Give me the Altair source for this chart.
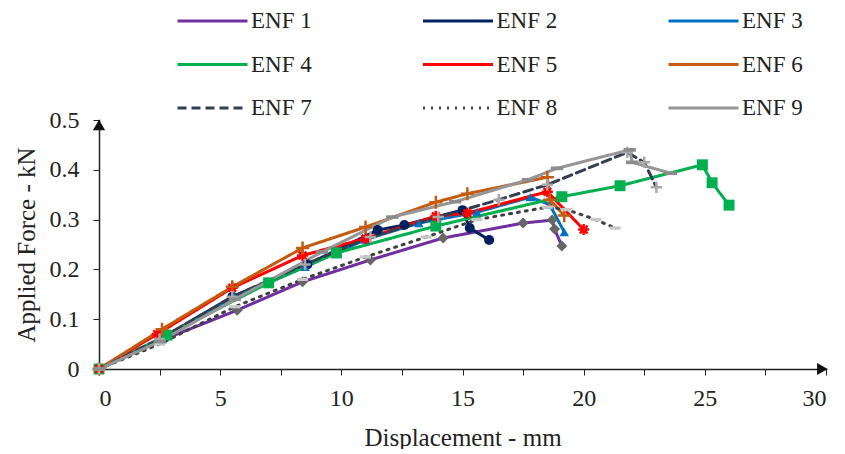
import altair as alt
import pandas as pd

series = ["ENF 1", "ENF 2", "ENF 3", "ENF 4", "ENF 5", "ENF 6", "ENF 7", "ENF 8", "ENF 9"]

x_enf1 = [0, 2.6, 5.7, 8.4, 11.2, 14.2, 17.5, 18.7, 18.8, 19.1]
y_enf1 = [0, 0.058, 0.118, 0.175, 0.219, 0.263, 0.293, 0.299, 0.281, 0.247]
x_enf2 = [0, 2.7, 5.5, 8.6, 11.5, 12.6, 15.0, 15.3, 16.1]
y_enf2 = [0, 0.065, 0.145, 0.21, 0.279, 0.289, 0.319, 0.283, 0.259]
x_enf3 = [0, 2.6, 5.6, 8.5, 11.0, 13.2, 15.6, 17.8, 18.6, 19.2]
y_enf3 = [0, 0.06, 0.145, 0.205, 0.26, 0.293, 0.315, 0.345, 0.33, 0.275]
x_enf4 = [0, 2.8, 7.0, 9.8, 13.9, 19.1, 21.5, 24.9, 25.3, 26.0]
y_enf4 = [0, 0.068, 0.173, 0.233, 0.287, 0.346, 0.368, 0.41, 0.374, 0.329]
x_enf5 = [0, 2.4, 5.5, 8.4, 11.0, 13.9, 15.2, 18.5, 20.0]
y_enf5 = [0, 0.07, 0.163, 0.228, 0.262, 0.307, 0.313, 0.356, 0.28]
x_enf6 = [0, 2.6, 5.5, 8.4, 11.0, 13.9, 15.2, 18.5, 18.6, 19.2]
y_enf6 = [0, 0.08, 0.165, 0.243, 0.285, 0.335, 0.352, 0.385, 0.34, 0.308]
x_enf7 = [0, 2.5, 5.5, 8.5, 11.2, 14.0, 16.5, 18.5, 21.8, 22.5, 23.0]
y_enf7 = [0, 0.06, 0.145, 0.21, 0.265, 0.305, 0.34, 0.37, 0.435, 0.415, 0.365]
x_enf8 = [0, 2.5, 5.6, 8.4, 11.0, 13.5, 15.6, 18.5, 19.3, 20.5, 21.3]
y_enf8 = [0, 0.05, 0.125, 0.18, 0.225, 0.265, 0.3, 0.325, 0.32, 0.3, 0.283]
x_enf9 = [0, 2.5, 5.6, 9.2, 12.1, 14.7, 17.7, 18.9, 21.9, 22.0, 23.6]
y_enf9 = [0, 0.055, 0.14, 0.235, 0.305, 0.336, 0.38, 0.403, 0.44, 0.415, 0.393]

xs_all = [x_enf1, x_enf2, x_enf3, x_enf4, x_enf5, x_enf6, x_enf7, x_enf8, x_enf9]
ys_all = [y_enf1, y_enf2, y_enf3, y_enf4, y_enf5, y_enf6, y_enf7, y_enf8, y_enf9]

x_ticks = [0, 2.5, 5, 7.5, 10, 12.5, 15, 17.5, 20, 22.5, 25, 27.5, 30]
y_ticks = [0, 0.05, 0.1, 0.15, 0.2, 0.25, 0.3, 0.35, 0.4, 0.45, 0.5]

rows = []
for name, xs, ys in zip(series, xs_all, ys_all):
    for i, (a, b) in enumerate(zip(xs, ys)):
        rows.append({"series": name, "order": i, "disp": a, "force": b})
df = pd.DataFrame(rows)

line_colors = ["#7030A0", "#002060", "#0070C0", "#00B050", "#FF0000",
               "#C55A11", "#333F50", "#404040", "#969696"]
dashes = [[1, 0], [1, 0], [1, 0], [1, 0], [1, 0], [1, 0], [9, 5], [2, 6], [1, 0]]
widths = [3, 3, 3, 3, 3, 3, 3, 4.5, 3]

FONT = "'Liberation Serif', Tinos, 'Nimbus Roman', 'Times New Roman', 'DejaVu Serif', serif"

xscale = alt.Scale(domain=[0, 30], nice=False)
yscale = alt.Scale(domain=[0, 0.5], nice=False)

xaxis = alt.Axis(values=x_ticks, title="Displacement - mm", grid=False,
                 labelExpr="datum.value % 5 == 0 ? datum.label : ''",
                 labelFont=FONT, labelFontSize=24, labelColor="#222",
                 titleFont=FONT, titleFontSize=25, titleFontWeight="normal", titleColor="#222",
                 tickSize=6, tickColor="#222", domainColor="#222", domainWidth=1.5,
                 labelPadding=11, titlePadding=15)
yaxis = alt.Axis(values=y_ticks, title="Applied Force - kN", grid=False,
                 labelExpr="round(datum.value*100) % 10 == 0 ? (datum.value == 0 ? '0' : format(datum.value, '.1f')) : ''",
                 labelFont=FONT, labelFontSize=24, labelColor="#222",
                 titleFont=FONT, titleFontSize=25, titleFontWeight="normal", titleColor="#222",
                 tickSize=6, tickColor="#222", domainColor="#222", domainWidth=1.5,
                 labelPadding=14, titlePadding=10)

base = alt.Chart(df)

lines = base.mark_line(strokeCap="round").encode(
    x=alt.X("disp:Q", scale=xscale, axis=xaxis),
    y=alt.Y("force:Q", scale=yscale, axis=yaxis),
    order="order:Q",
    color=alt.Color("series:N", scale=alt.Scale(domain=series, range=line_colors),
                    legend=alt.Legend(title=None, orient="none", legendX=77, legendY=-110,
                                      columns=3, direction="horizontal",
                                      symbolType="stroke", symbolSize=4900, clipHeight=22,
                                      symbolStrokeWidth=3.5, labelFont=FONT,
                                      labelFontSize=23, labelColor="#222",
                                      columnPadding=109.5, rowPadding=20.5, labelOffset=2)),
    strokeDash=alt.StrokeDash("series:N", scale=alt.Scale(domain=series, range=dashes),
                              legend=None),
    strokeWidth=alt.StrokeWidth("series:N", scale=alt.Scale(domain=series, range=widths),
                                legend=None),
)

asterisk = "M-1,0H1M0,-1V1M-0.7,-0.7L0.7,0.7M-0.7,0.7L0.7,-0.7"
plus = "M-1,0H1M0,-1V1"
dash_rect = "M-1,-0.3H1V0.3H-1Z"

marker_specs = [
    ("ENF 1", "diamond", "#666666", 120, True),
    ("ENF 2", "circle", "#002060", 100, True),
    ("ENF 3", "triangle-up", "#0070C0", 90, True),
    ("ENF 4", "square", "#00B050", 120, True),
    ("ENF 5", asterisk, "#FF0000", 120, False),
    ("ENF 6", plus, "#C55A11", 170, False),
    ("ENF 7", plus, "#A8A8A8", 130, False),
    ("ENF 8", dash_rect, "#C8C8C8", 120, True),
    ("ENF 9", dash_rect, "#8C8C8C", 150, True),
]

point_layers = []
for name, shp, col, sz, filled in marker_specs:
    if filled:
        mk = base.mark_point(filled=True, opacity=1, strokeWidth=0)
        enc = dict(fill=alt.value(col))
    else:
        mk = base.mark_point(filled=False, opacity=1, strokeWidth=2.5)
        enc = dict(stroke=alt.value(col))
    point_layers.append(
        mk.transform_filter(alt.datum.series == name).encode(
            x=alt.X("disp:Q", scale=xscale),
            y=alt.Y("force:Q", scale=yscale),
            shape=alt.value(shp),
            size=alt.value(sz),
            **enc,
        )
    )

arrow_x = [0, 29.85]
arrow_y = [0.49, 0]
arrow_shape = ["triangle-up", "triangle-right"]
arrows_df = pd.DataFrame({"ax": arrow_x, "ay": arrow_y, "shape": arrow_shape})
arrows = alt.Chart(arrows_df).mark_point(filled=True, opacity=1, color="#111", size=150).encode(
    x=alt.X("ax:Q", scale=xscale),
    y=alt.Y("ay:Q", scale=yscale),
    shape=alt.Shape("shape:N", scale=None, legend=None),
)

chart = alt.layer(lines, *point_layers, arrows).properties(
    width=727, height=249,
    autosize=alt.AutoSizeParams(type="none"),
    padding={"left": 91, "top": 112, "right": 10, "bottom": 80},
).configure_view(stroke=None).configure_axis(domainCap="square")

chart.save("out.html", embed_options={"renderer": "svg", "actions": False})
